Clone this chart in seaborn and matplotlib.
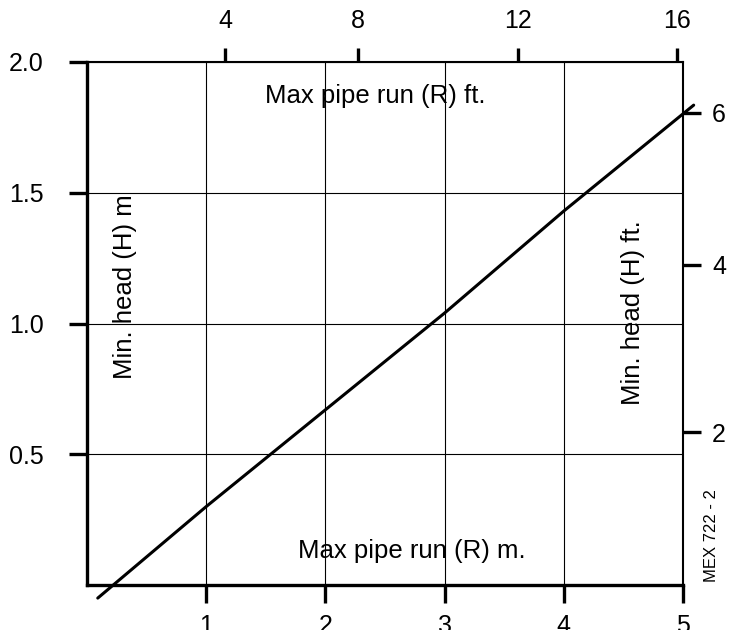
import matplotlib
matplotlib.use("Agg")
import matplotlib.pyplot as plt
import seaborn as sns
import pandas as pd

# dados
run_m = [0.09, 1.0, 2.0, 3.0, 4.0, 5.09]
head_m = [-0.05, 0.30, 0.67, 1.04, 1.43, 1.835]

x_ticks = [1, 2, 3, 4, 5]
x_labels = ["1", "2", "3", "4", "5"]
y_ticks = [0.5, 1.0, 1.5, 2.0]
y_labels = ["0.5", "1.0", "1.5", "2.0"]

# escalas em pés (posição em metros, como no desenho)
ft_x_pos = [1.16, 2.27, 3.62, 4.95]
ft_x_labels = ["4", "8", "12", "16"]
ft_y_pos = [0.585, 1.224, 1.805]
ft_y_labels = ["2", "4", "6"]

sns.set_style("white")
plt.rcParams['font.family'] = ['Liberation Sans', 'DejaVu Sans']
plt.rcParams['text.color'] = 'black'

df = pd.DataFrame({"R": run_m, "H": head_m})

fig = plt.figure(figsize=(7.32, 6.30), dpi=100)
ax = fig.add_axes([0.1189, 0.0714, 0.8141, 0.8302])

sns.lineplot(data=df, x="R", y="H", ax=ax, color="black", linewidth=2.2,
             clip_on=False, zorder=5)

ax.set_xlim(0, 5)
ax.set_ylim(0, 2)
ax.set_xticks(x_ticks)
ax.set_xticklabels(x_labels)
ax.set_yticks(y_ticks)
ax.set_yticklabels(y_labels)
ax.set_xlabel("")
ax.set_ylabel("")
ax.grid(True, color="black", linewidth=0.8)

ax.tick_params(axis="x", direction="out", length=13, width=2.4, pad=8,
               labelsize=18, colors="black")
ax.tick_params(axis="y", direction="out", length=13, width=2.4, pad=18,
               labelsize=18, colors="black")

for s in ["left", "bottom"]:
    ax.spines[s].set_linewidth(2.4)
    ax.spines[s].set_color("black")
for s in ["top", "right"]:
    ax.spines[s].set_linewidth(1.5)
    ax.spines[s].set_color("black")

# eixo de cima (pés)
axt = ax.twiny()
axt.set_xlim(ax.get_xlim())
axt.set_xticks(ft_x_pos)
axt.set_xticklabels(ft_x_labels)
axt.tick_params(axis="x", direction="out", length=10, width=2.4, pad=11,
                labelsize=18, colors="black")
for s in axt.spines.values():
    s.set_visible(False)

# eixo da direita (pés)
axr = ax.twinx()
axr.set_ylim(ax.get_ylim())
axr.set_yticks(ft_y_pos)
axr.set_yticklabels(ft_y_labels)
axr.tick_params(axis="y", direction="out", length=13, width=2.4, pad=8,
                labelsize=18, colors="black")
for s in axr.spines.values():
    s.set_visible(False)

# textos
ax.text(1.49, 1.87, "Max pipe run (R) ft.", fontsize=18.5, ha="left", va="center")
ax.text(1.77, 0.13, "Max pipe run (R) m.", fontsize=18.5, ha="left", va="center")
ax.text(0.32, 1.14, "Min. head (H) m", fontsize=18.5, rotation=90,
        ha="center", va="center")
ax.text(4.58, 1.04, "Min. head (H) ft.", fontsize=18.5, rotation=90,
        ha="center", va="center")
ax.text(5.24, 0.19, "MEX 722 - 2", fontsize=12, rotation=90,
        ha="center", va="center")

fig.savefig("out.png", dpi=100)
